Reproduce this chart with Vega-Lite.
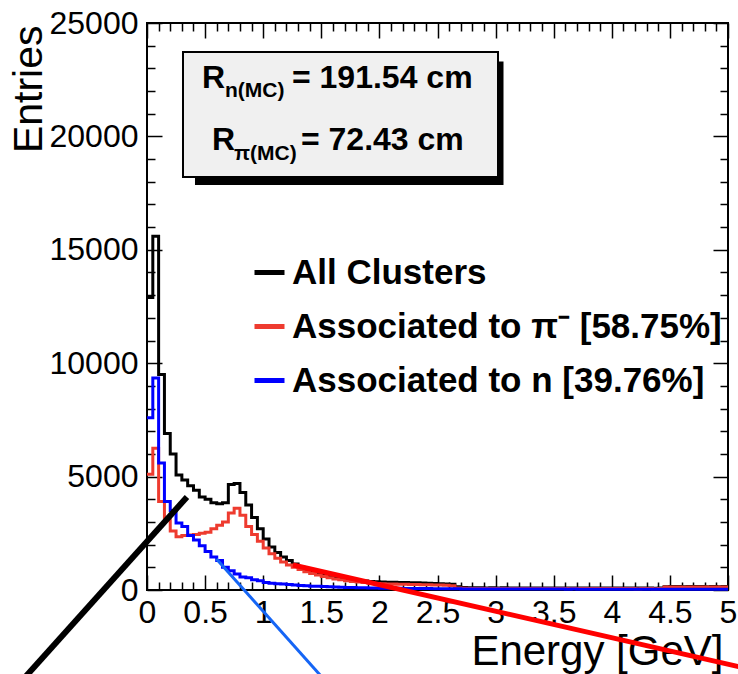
{
  "$schema": "https://vega.github.io/schema/vega-lite/v6.json",
  "width": 581,
  "height": 567,
  "autosize": {"type": "none"},
  "padding": {"left": 147, "top": 23, "right": 10, "bottom": 84},
  "background": "white",
  "config": {
    "view": {"stroke": "black", "strokeWidth": 2},
    "font": "Liberation Sans",
    "axis": {"grid": false, "domain": false, "tickColor": "black", "tickWidth": 1.5, "labelColor": "black", "titleColor": "black", "labelFont": "Liberation Sans", "titleFont": "Liberation Sans"}
  },
  "datasets": {
    "hist": [
      {"E":0.00,"all":12900,"pi":5100,"n":7600},
      {"E":0.05,"all":15600,"pi":6250,"n":9350},
      {"E":0.10,"all":9500,"pi":3900,"n":5600},
      {"E":0.15,"all":6900,"pi":3100,"n":3900},
      {"E":0.20,"all":6000,"pi":2600,"n":3500},
      {"E":0.25,"all":5070,"pi":2350,"n":2950},
      {"E":0.30,"all":4850,"pi":2400,"n":2800},
      {"E":0.35,"all":4600,"pi":2420,"n":2400},
      {"E":0.40,"all":4400,"pi":2450,"n":2200},
      {"E":0.45,"all":4100,"pi":2500,"n":1950},
      {"E":0.50,"all":4000,"pi":2550,"n":1700},
      {"E":0.55,"all":3850,"pi":2700,"n":1450},
      {"E":0.60,"all":3800,"pi":2850,"n":1300},
      {"E":0.65,"all":3850,"pi":3000,"n":1000},
      {"E":0.70,"all":4650,"pi":3400,"n":850},
      {"E":0.75,"all":4700,"pi":3600,"n":700},
      {"E":0.80,"all":4300,"pi":3300,"n":570},
      {"E":0.85,"all":3750,"pi":2800,"n":540},
      {"E":0.90,"all":3200,"pi":2450,"n":450},
      {"E":0.95,"all":2700,"pi":2150,"n":410},
      {"E":1.00,"all":2250,"pi":1850,"n":330},
      {"E":1.05,"all":1900,"pi":1600,"n":300},
      {"E":1.10,"all":1650,"pi":1400,"n":280},
      {"E":1.15,"all":1450,"pi":1230,"n":260},
      {"E":1.20,"all":1300,"pi":1100,"n":240},
      {"E":1.25,"all":1150,"pi":1000,"n":220},
      {"E":1.30,"all":1000,"pi":900,"n":200},
      {"E":1.35,"all":900,"pi":810,"n":185},
      {"E":1.40,"all":820,"pi":730,"n":170},
      {"E":1.45,"all":740,"pi":660,"n":160},
      {"E":1.50,"all":670,"pi":600,"n":150},
      {"E":1.55,"all":610,"pi":540,"n":140},
      {"E":1.60,"all":560,"pi":490,"n":130},
      {"E":1.65,"all":520,"pi":450,"n":120},
      {"E":1.70,"all":480,"pi":410,"n":110},
      {"E":1.75,"all":450,"pi":380,"n":105},
      {"E":1.80,"all":420,"pi":350,"n":100},
      {"E":1.85,"all":400,"pi":330,"n":95},
      {"E":1.90,"all":380,"pi":310,"n":90},
      {"E":1.95,"all":360,"pi":290,"n":85},
      {"E":2.00,"all":350,"pi":275,"n":80},
      {"E":2.05,"all":345,"pi":265,"n":78},
      {"E":2.10,"all":340,"pi":260,"n":75},
      {"E":2.15,"all":335,"pi":255,"n":72},
      {"E":2.20,"all":330,"pi":250,"n":70},
      {"E":2.25,"all":325,"pi":245,"n":68},
      {"E":2.30,"all":320,"pi":240,"n":66},
      {"E":2.35,"all":310,"pi":235,"n":64},
      {"E":2.40,"all":300,"pi":230,"n":62},
      {"E":2.45,"all":290,"pi":225,"n":60},
      {"E":2.50,"all":280,"pi":220,"n":58},
      {"E":2.55,"all":270,"pi":210,"n":56},
      {"E":2.60,"all":250,"pi":190,"n":54},
      {"E":2.65,"all":140,"pi":90,"n":50},
      {"E":2.70,"all":110,"pi":75,"n":48},
      {"E":2.75,"all":100,"pi":70,"n":45},
      {"E":2.80,"all":95,"pi":68,"n":44},
      {"E":2.85,"all":98,"pi":70,"n":45},
      {"E":2.90,"all":92,"pi":66,"n":42},
      {"E":2.95,"all":95,"pi":68,"n":44},
      {"E":3.00,"all":90,"pi":65,"n":42},
      {"E":3.05,"all":94,"pi":68,"n":43},
      {"E":3.10,"all":92,"pi":66,"n":42},
      {"E":3.15,"all":90,"pi":64,"n":41},
      {"E":3.20,"all":93,"pi":67,"n":42},
      {"E":3.25,"all":90,"pi":65,"n":40},
      {"E":3.30,"all":88,"pi":64,"n":40},
      {"E":3.35,"all":92,"pi":66,"n":41},
      {"E":3.40,"all":90,"pi":65,"n":40},
      {"E":3.45,"all":88,"pi":63,"n":39},
      {"E":3.50,"all":91,"pi":66,"n":40},
      {"E":3.55,"all":89,"pi":64,"n":39},
      {"E":3.60,"all":87,"pi":63,"n":38},
      {"E":3.65,"all":90,"pi":65,"n":39},
      {"E":3.70,"all":88,"pi":64,"n":38},
      {"E":3.75,"all":86,"pi":62,"n":38},
      {"E":3.80,"all":89,"pi":64,"n":38},
      {"E":3.85,"all":87,"pi":63,"n":37},
      {"E":3.90,"all":85,"pi":62,"n":37},
      {"E":3.95,"all":88,"pi":64,"n":37},
      {"E":4.00,"all":86,"pi":62,"n":36},
      {"E":4.05,"all":84,"pi":61,"n":36},
      {"E":4.10,"all":87,"pi":63,"n":36},
      {"E":4.15,"all":85,"pi":62,"n":35},
      {"E":4.20,"all":83,"pi":60,"n":35},
      {"E":4.25,"all":86,"pi":62,"n":35},
      {"E":4.30,"all":84,"pi":61,"n":34},
      {"E":4.35,"all":82,"pi":60,"n":34},
      {"E":4.40,"all":85,"pi":62,"n":34},
      {"E":4.45,"all":148,"pi":128,"n":35},
      {"E":4.50,"all":150,"pi":130,"n":34},
      {"E":4.55,"all":152,"pi":132,"n":35},
      {"E":4.60,"all":146,"pi":126,"n":34},
      {"E":4.65,"all":150,"pi":130,"n":35},
      {"E":4.70,"all":149,"pi":129,"n":34},
      {"E":4.75,"all":151,"pi":131,"n":35},
      {"E":4.80,"all":147,"pi":127,"n":34},
      {"E":4.85,"all":150,"pi":130,"n":34},
      {"E":4.90,"all":148,"pi":128,"n":33},
      {"E":4.95,"all":150,"pi":130,"n":34},
      {"E":5.00,"all":150,"pi":130,"n":34}
    ],
    "segs": [
      {"seg":"k","E":0.344,"v":4100},
      {"seg":"k","E":-1.2255,"v":-4850},
      {"seg":"b","E":0.598,"v":1367},
      {"seg":"b","E":1.6816,"v":-4850},
      {"seg":"r","E":1.2565,"v":1102},
      {"seg":"r","E":5.2754,"v":-3594}
    ]
  },
  "layer": [
    {
      "data": {"name": "hist"},
      "mark": {"type": "line", "interpolate": "step-after", "strokeWidth": 3},
      "encoding": {
        "x": {"field": "E", "type": "quantitative", "scale": {"domain": [0, 5], "nice": false, "zero": false},
          "axis": {"orient": "bottom", "offset": -15, "tickSize": 15,
            "values": [0,0.5,1,1.5,2,2.5,3,3.5,4,4.5,5],
            "labelExpr": "format(datum.value, '~g')",
            "labelFontSize": 32, "labelPadding": 7, "labelFlush": false, "labelOverlap": false, "labelBound": false,
            "title": "Energy [GeV]", "titleFontSize": 42, "titleFontWeight": "normal",
            "titleAlign": "right", "titleBaseline": "alphabetic", "titleAnchor": "end", "titleX": 576, "titleY": 89}},
        "y": {"field": "all", "type": "quantitative", "scale": {"domain": [0, 25000], "nice": false, "zero": false},
          "axis": {"orient": "left", "offset": -15, "tickSize": 15,
            "values": [0,5000,10000,15000,20000,25000],
            "labelExpr": "format(datum.value, 'd')",
            "labelFontSize": 32, "labelPadding": 9, "labelFlush": false, "labelOverlap": false, "labelBound": false,
            "title": "Entries", "titleFontSize": 41, "titleFontWeight": "normal", "titleAngle": -90,
            "titleAlign": "right", "titleBaseline": "middle", "titleAnchor": "end", "titleX": -133, "titleY": 2}},
        "color": {"datum": "All Clusters", "type": "nominal",
          "scale": {"domain": ["All Clusters", "Associated to π⁻ [58.75%]", "Associated to n [39.76%]"], "range": ["#000000", "#ee3b2f", "#0000ff"]},
          "legend": {"orient": "none", "legendX": 105, "legendY": 232, "title": null, "symbolType": "stroke", "symbolSize": 900, "symbolStrokeWidth": 5, "labelFontSize": 35, "labelFontWeight": "bold", "labelFont": "Liberation Sans", "labelColor": "black", "labelOffset": 5, "rowPadding": 18, "padding": 0, "labelLimit": 0}}
      }
    },
    {
      "data": {"name": "hist"},
      "mark": {"type": "line", "interpolate": "step-after", "strokeWidth": 3},
      "encoding": {
        "x": {"field": "E", "type": "quantitative", "scale": {"domain": [0, 5], "nice": false, "zero": false},
          "axis": {"orient": "bottom", "offset": -8, "tickSize": 8, "labels": false, "title": null,
            "values": [0.1,0.2,0.3,0.4,0.6,0.7,0.8,0.9,1.1,1.2,1.3,1.4,1.6,1.7,1.8,1.9,2.1,2.2,2.3,2.4,2.6,2.7,2.8,2.9,3.1,3.2,3.3,3.4,3.6,3.7,3.8,3.9,4.1,4.2,4.3,4.4,4.6,4.7,4.8,4.9]}},
        "y": {"field": "pi", "type": "quantitative", "scale": {"domain": [0, 25000], "nice": false, "zero": false},
          "axis": {"orient": "left", "offset": -8, "tickSize": 8, "labels": false, "title": null,
            "values": [1000,2000,3000,4000,6000,7000,8000,9000,11000,12000,13000,14000,16000,17000,18000,19000,21000,22000,23000,24000]}},
        "color": {"datum": "Associated to π⁻ [58.75%]", "type": "nominal"}
      }
    },
    {
      "data": {"name": "hist"},
      "mark": {"type": "line", "interpolate": "step-after", "strokeWidth": 3},
      "encoding": {
        "x": {"field": "E", "type": "quantitative", "scale": {"domain": [0, 5], "nice": false, "zero": false}, "axis": null},
        "y": {"field": "n", "type": "quantitative", "scale": {"domain": [0, 25000], "nice": false, "zero": false}, "axis": null},
        "color": {"datum": "Associated to n [39.76%]", "type": "nominal"}
      }
    },
    {
      "data": {"name": "segs"},
      "transform": [{"filter": "datum.seg === 'k'"}],
      "mark": {"type": "line", "color": "#000000", "strokeWidth": 6, "clip": false},
      "encoding": {
        "x": {"field": "E", "type": "quantitative", "scale": {"domain": [0, 5], "nice": false, "zero": false}, "axis": null},
        "y": {"field": "v", "type": "quantitative", "scale": {"domain": [0, 25000], "nice": false, "zero": false}, "axis": null}
      }
    },
    {
      "data": {"name": "segs"},
      "transform": [{"filter": "datum.seg === 'b'"}],
      "mark": {"type": "line", "color": "#1565f5", "strokeWidth": 3, "clip": false},
      "encoding": {
        "x": {"field": "E", "type": "quantitative", "scale": {"domain": [0, 5], "nice": false, "zero": false},
          "axis": {"orient": "top", "offset": -8, "tickSize": 8, "labels": false, "title": null,
            "values": [0.1,0.2,0.3,0.4,0.6,0.7,0.8,0.9,1.1,1.2,1.3,1.4,1.6,1.7,1.8,1.9,2.1,2.2,2.3,2.4,2.6,2.7,2.8,2.9,3.1,3.2,3.3,3.4,3.6,3.7,3.8,3.9,4.1,4.2,4.3,4.4,4.6,4.7,4.8,4.9]}},
        "y": {"field": "v", "type": "quantitative", "scale": {"domain": [0, 25000], "nice": false, "zero": false},
          "axis": {"orient": "right", "offset": -8, "tickSize": 8, "labels": false, "title": null,
            "values": [1000,2000,3000,4000,6000,7000,8000,9000,11000,12000,13000,14000,16000,17000,18000,19000,21000,22000,23000,24000]}}
      }
    },
    {
      "data": {"name": "segs"},
      "transform": [{"filter": "datum.seg === 'r'"}],
      "mark": {"type": "line", "color": "#ff0000", "strokeWidth": 5, "clip": false},
      "encoding": {
        "x": {"field": "E", "type": "quantitative", "scale": {"domain": [0, 5], "nice": false, "zero": false},
          "axis": {"orient": "top", "offset": -15, "tickSize": 15, "labels": false, "title": null,
            "values": [0,0.5,1,1.5,2,2.5,3,3.5,4,4.5,5]}},
        "y": {"field": "v", "type": "quantitative", "scale": {"domain": [0, 25000], "nice": false, "zero": false},
          "axis": {"orient": "right", "offset": -15, "tickSize": 15, "labels": false, "title": null,
            "values": [0,5000,10000,15000,20000,25000]}}
      }
    },
    {
      "data": {"values": [{}]},
      "mark": {"type": "rect", "color": "#000000"},
      "encoding": {
        "x": {"datum": 0.413, "type": "quantitative", "scale": {"domain": [0, 5], "nice": false, "zero": false}, "axis": null},
        "x2": {"datum": 3.068},
        "y": {"datum": 23300, "type": "quantitative", "scale": {"domain": [0, 25000], "nice": false, "zero": false}, "axis": null},
        "y2": {"datum": 17857}
      }
    },
    {
      "data": {"values": [{}]},
      "mark": {"type": "rect", "fill": "#f0f0f0", "stroke": "#000000", "strokeWidth": 2},
      "encoding": {
        "x": {"datum": 0.3098, "type": "quantitative", "scale": {"domain": [0, 5], "nice": false, "zero": false}, "axis": null},
        "x2": {"datum": 3.0207},
        "y": {"datum": 23720, "type": "quantitative", "scale": {"domain": [0, 25000], "nice": false, "zero": false}, "axis": null},
        "y2": {"datum": 18210}
      }
    },
    {
      "data": {"values": [{}]},
      "mark": {"type": "text", "text": "R", "font": "Liberation Sans", "fontWeight": "bold", "fontSize": 32, "align": "left", "baseline": "alphabetic", "color": "black"},
      "encoding": {
        "x": {"datum": 0.4733, "type": "quantitative", "scale": {"domain": [0, 5], "nice": false, "zero": false}, "axis": null},
        "y": {"datum": 22134, "type": "quantitative", "scale": {"domain": [0, 25000], "nice": false, "zero": false}, "axis": null}
      }
    },
    {
      "data": {"values": [{}]},
      "mark": {"type": "text", "text": "n(MC)", "font": "Liberation Sans", "fontWeight": "bold", "fontSize": 21, "align": "left", "baseline": "alphabetic", "color": "black"},
      "encoding": {
        "x": {"datum": 0.6713, "type": "quantitative", "scale": {"domain": [0, 5], "nice": false, "zero": false}, "axis": null},
        "y": {"datum": 21737, "type": "quantitative", "scale": {"domain": [0, 25000], "nice": false, "zero": false}, "axis": null}
      }
    },
    {
      "data": {"values": [{}]},
      "mark": {"type": "text", "text": "= 191.54 cm", "font": "Liberation Sans", "fontWeight": "bold", "fontSize": 32, "align": "left", "baseline": "alphabetic", "color": "black"},
      "encoding": {
        "x": {"datum": 1.2478, "type": "quantitative", "scale": {"domain": [0, 5], "nice": false, "zero": false}, "axis": null},
        "y": {"datum": 22134, "type": "quantitative", "scale": {"domain": [0, 25000], "nice": false, "zero": false}, "axis": null}
      }
    },
    {
      "data": {"values": [{}]},
      "mark": {"type": "text", "text": "R", "font": "Liberation Sans", "fontWeight": "bold", "fontSize": 32, "align": "left", "baseline": "alphabetic", "color": "black"},
      "encoding": {
        "x": {"datum": 0.5594, "type": "quantitative", "scale": {"domain": [0, 5], "nice": false, "zero": false}, "axis": null},
        "y": {"datum": 19400, "type": "quantitative", "scale": {"domain": [0, 25000], "nice": false, "zero": false}, "axis": null}
      }
    },
    {
      "data": {"values": [{}]},
      "mark": {"type": "text", "text": "π(MC)", "font": "Liberation Sans", "fontWeight": "bold", "fontSize": 21, "align": "left", "baseline": "alphabetic", "color": "black"},
      "encoding": {
        "x": {"datum": 0.7487, "type": "quantitative", "scale": {"domain": [0, 5], "nice": false, "zero": false}, "axis": null},
        "y": {"datum": 18960, "type": "quantitative", "scale": {"domain": [0, 25000], "nice": false, "zero": false}, "axis": null}
      }
    },
    {
      "data": {"values": [{}]},
      "mark": {"type": "text", "text": "= 72.43 cm", "font": "Liberation Sans", "fontWeight": "bold", "fontSize": 32, "align": "left", "baseline": "alphabetic", "color": "black"},
      "encoding": {
        "x": {"datum": 1.3253, "type": "quantitative", "scale": {"domain": [0, 5], "nice": false, "zero": false}, "axis": null},
        "y": {"datum": 19400, "type": "quantitative", "scale": {"domain": [0, 25000], "nice": false, "zero": false}, "axis": null}
      }
    }
  ],
  "resolve": {"axis": {"x": "independent", "y": "independent"}}
}
